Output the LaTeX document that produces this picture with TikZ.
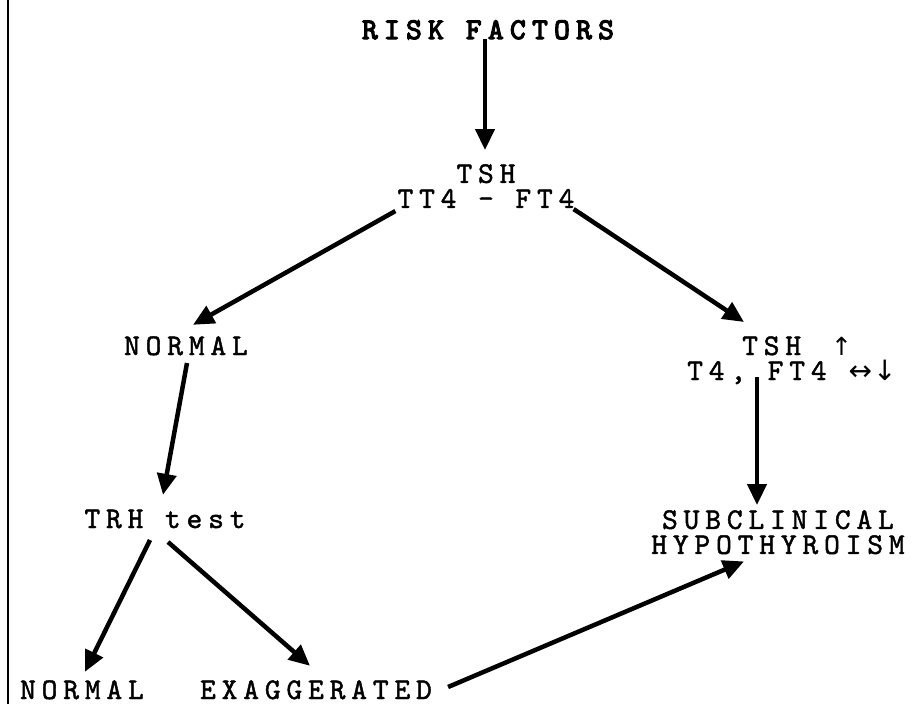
\documentclass[tikz,border=0pt]{standalone}
\usepackage{fontspec}
\usetikzlibrary{arrows.meta}
\newfontfamily\tw{lmmono10-regular.otf}[LetterSpace=19.5,FakeBold=1.5]
\newfontfamily\twb{lmmono10-regular.otf}[LetterSpace=21,FakeBold=4]
\newfontfamily\symf{DejaVu Sans}
\tikzset{
  lbl/.style={inner sep=0pt, anchor=base, text height=18pt, text depth=0pt, font=\fontsize{30}{32}\tw},
  lblw/.style={lbl, anchor=base west},
  two/.style={inner sep=0pt, anchor=north, align=center, font=\fontsize{30}{25}\tw},
  arr/.style={line width=4.5pt, -{Triangle[length=21pt,width=19pt]}},
  border/.style={line width=1.5pt}
}
\begin{document}
\begin{tikzpicture}[x=1pt,y=1pt]
\useasboundingbox (0,0) rectangle (914,-704);
\draw[border] (8,0) -- (8,-704);

\node[lbl, font=\fontsize{30}{32}\twb] (rf) at (488,-39) {RISK FACTORS};
\node[two] (tsh) at (486,-164) {TSH\\TT4 - FT4};
\node[lbl] (nm1) at (186,-355) {NORMAL};
\node[lblw] (tsh2) at (742,-355) {TSH\hspace{30pt}{\symf\fontsize{25}{24}\selectfont ↑}};
\node[lblw] (t4) at (687,-380) {T4, FT4\hspace{22pt}{\symf\fontsize{28}{24}\selectfont ↔\hspace{1pt}↓}};
\node[lbl] (trh) at (165,-528) {TRH test};
\node[two] (sub) at (778,-510) {SUBCLINICAL\\HYPOTHYROISM};
\node[lbl] (nm2) at (82,-699) {NORMAL};
\node[lbl] (exa) at (316,-699) {EXAGGERATED};

\draw[arr] ([xshift=-3pt]rf.base) -- ([shift={(-1,14)}]tsh.north);
\draw[arr] ([shift={(-2,-3)}]tsh.south west) -- ([shift={(7,12)}]nm1.north);
\draw[arr] ([shift={(-1,-1)}]tsh.south east) -- ([shift={(2,33)}]tsh2.base west);
\draw[arr] ([shift={(1,-8)}]nm1.base) -- ([shift={(-2,15)}]trh.north);
\draw[arr] ([shift={(70,3)}]t4.base west) -- ([shift={(-21,5)}]sub.north);
\draw[arr] ([shift={(-15,-12)}]trh.base) -- ([shift={(3,9)}]nm2.north);
\draw[arr] ([shift={(3,-14)}]trh.base) -- ([shift={(-6,15)}]exa.north);
\draw[arr] ([shift={(16,12)}]exa.base east) -- ([shift={(-34,-7)}]sub.south);
\end{tikzpicture}
\end{document}
